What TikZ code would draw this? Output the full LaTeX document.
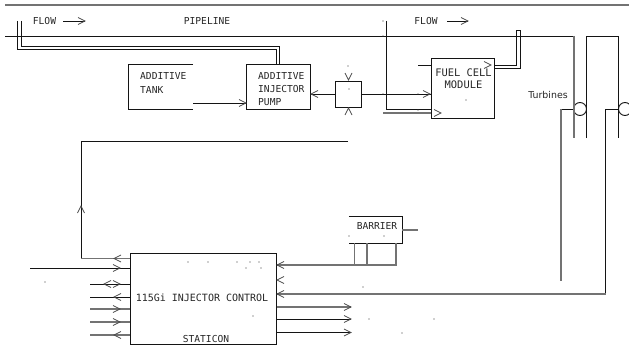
\documentclass[tikz,border=0pt]{standalone}
\usepackage{fontspec}
\setmainfont{DejaVu Sans Mono}
\newfontfamily\sansf{DejaVu Sans}
\definecolor{lg}{gray}{0.45}
\definecolor{dk}{gray}{0.08}
\tikzset{
  wire/.style={draw=dk,line width=0.9pt},
  gwire/.style={draw=lg,line width=1.1pt},
  box/.style={draw=dk,line width=1pt,inner sep=0pt,rectangle},
  openbox/.style={inner sep=0pt,rectangle},
  lab/.style={inner sep=0pt,font=\fontsize{9.6}{12}\selectfont,text=black!85},
  chevron/.style={draw=black!70,line width=0.8pt},
  speck/.style={fill=black!80,inner sep=0pt,minimum size=1.2pt,circle}
}
\newcommand{\chev}[3]{\draw[chevron,shift={(#1,#2)},rotate=#3] (-7,-3.5)--(0,0)--(-7,3.5);}
\begin{document}
\begin{tikzpicture}[x=1pt,y=-1pt]
\useasboundingbox (0,0) rectangle (629,345);
% boxes
\node[openbox,minimum width=64pt,minimum height=44pt] (tank) at (161,87) {};
\draw[box] (tank.north east)--(tank.north west)--(tank.south west)--(tank.south east);
\node[box,minimum width=64pt,minimum height=44pt] (pump) at (278,87) {};
\node[box,minimum width=26pt,minimum height=26pt] (valve) at (348,94) {};
\node[box,minimum width=63pt,minimum height=59pt] (cell) at (462.5,88.5) {};
\node[openbox,minimum width=53pt,minimum height=26pt] (barrier) at (375.5,230) {};
\draw[box] (barrier.north west)--(barrier.north east)--(barrier.south east)--(barrier.south west);
\node[box,minimum width=146pt,minimum height=91pt] (ctrl) at (203,298.5) {};
\node[draw=dk,line width=0.9pt,circle,inner sep=0pt,minimum size=13pt] (t1) at (580,109) {};
\node[draw=dk,line width=0.9pt,circle,inner sep=0pt,minimum size=13pt] (t2) at (625,109) {};
% free ends
\coordinate (pipeA) at (5,5);\coordinate (pipeB) at (629,5);
\coordinate (pipeC) at (5,36);\coordinate (pipeD) at (574,36);
\coordinate (t1a) at (574,138);\coordinate (t1b) at (586,138);\coordinate (t1c) at (586,36);
\coordinate (t2c) at (618,36);\coordinate (t2a) at (618,138);
% pipeline
\draw[gwire] (pipeA)--(pipeB);
\draw[wire] (pipeC)--(pipeD);
\draw[gwire] (pipeD)--(t1a);
\draw[wire] (t1b)--(t1c)--(t2c)--(t2a);
\draw[wire] (t1.west)--(561,109);
\draw[gwire] (561,109)--(561,281);
\draw[wire] (t2.west)--(605.5,109)--(605.5,294);
\draw[gwire] (605.5,294)--(ctrl.east |- 0,294);
% sampling tube to pump
\draw[wire] (17,21)--(17,49.5)--(276,49.5)--(pump.north -| 276,0);
\draw[wire] (21,21)--(21,46.5)--(279,46.5)--(pump.north -| 279,0);
% tank to pump
\draw[wire] (tank.east |- 0,103)--(pump.west |- 0,103);
\chev{246}{103}{0}
% pump <-> valve
\draw[wire] (pump.east |- valve.west)--(valve.west);
\chev{311}{94}{180}
\draw[wire] (valve.east)--(cell.west |- valve.east);
\chev{430}{94}{0}
\chev{348.5}{80}{-90}
\chev{348.5}{108}{90}
% fuel cell
\draw[wire] (418,65.5)--(cell.west |- 0,65.5);
\draw[wire] (386,21)--(386,109)--(cell.west |- 0,109);
\draw[gwire] (383,113)--(cell.west |- 0,113);
\chev{441}{113}{0}
\chev{491}{65}{0}
\draw[wire] (cell.east |- 0,65)--(516.5,65)--(516.5,30)--(520.5,30)--(520.5,68)--(cell.east |- 0,68);
% feedback
\draw[wire] (348,141)--(81,141)--(81,258.5);
\draw[gwire] (81,258.5)--(ctrl.west |- 0,258.5);
\chev{81}{206}{90}
\chev{114}{258.5}{180}
% left connections
\draw[wire] (30,268)--(ctrl.west |- 0,268);\chev{120}{268}{0}
\draw[wire] (90,284)--(ctrl.west |- 0,284);\chev{120}{284}{0}\chev{104}{284}{180}
\draw[wire] (90,297)--(ctrl.west |- 0,297);\chev{114}{297}{180}
\draw[gwire] (90,309)--(ctrl.west |- 0,309);\chev{120}{309}{0}
\draw[gwire] (90,322)--(ctrl.west |- 0,322);\chev{120}{322}{0}
\draw[gwire] (90,335)--(ctrl.west |- 0,335);\chev{114}{335}{180}
% barrier
\draw[gwire] (barrier.east)--(418,230);
\draw[gwire] (354.5,243)--(354.5,265);
\draw[gwire] (367,243)--(367,265);
\draw[gwire] (396,243)--(396,265)--(ctrl.east |- 0,265);
\chev{277}{265}{180}
\chev{277}{280}{180}
\chev{277}{294}{180}
% outputs
\draw[gwire] (ctrl.east |- 0,307)--(351,307);\chev{351}{307}{0}
\draw[wire] (ctrl.east |- 0,319)--(351,319);\chev{351}{319}{0}
\draw[wire] (ctrl.east |- 0,332.5)--(351,332.5);\chev{351}{332.5}{0}
% flow arrows
\coordinate (fa) at (63,21);\coordinate (fb) at (85,21);
\draw[wire] (fa)--(fb);\chev{85}{21}{0}
\coordinate (fc) at (447,21);\coordinate (fd) at (468,21);
\draw[wire] (fc)--(fd);\chev{468}{21}{0}
% labels
\node[lab] (l1) at (44.5,21) {FLOW};
\node[lab] (l2) at (207,21) {PIPELINE};
\node[lab] (l3) at (426,21) {FLOW};
\node[lab,anchor=west] (l4) at (140,76) {ADDITIVE};
\node[lab,anchor=west] (l5) at (140,90) {TANK};
\node[lab,anchor=west] (l6) at (258,76) {ADDITIVE};
\node[lab,anchor=west] (l7) at (258,89) {INJECTOR};
\node[lab,anchor=west] (l8) at (258,102) {PUMP};
\node[lab,font=\fontsize{10.4}{12}\selectfont] (l9) at (463.5,73) {FUEL CELL};
\node[lab,font=\fontsize{10.4}{12}\selectfont] (l10) at (463.5,85) {MODULE};
\node[lab,font=\sansf\fontsize{9.4}{12}\selectfont] (l11) at (548,95) {Turbines};
\node[lab] (l12) at (377,226) {BARRIER};
\node[lab,font=\fontsize{10}{12}\selectfont] (l13) at (202,298) {115Gi INJECTOR CONTROL};
\node[lab] (l14) at (206,339.5) {STATICON};
% specks
\foreach \px/\py in {188/262,208/262,237/262,250/262,259/262,246/268,261/268,253/316,45/282,369/319,434/319,402/333,363/287,466/100,349/89,348/66,383/94,418/94,418/110,383/36,383/21,349/236,384/236}
  \node[speck] at (\px,\py) {};
\end{tikzpicture}
\end{document}
